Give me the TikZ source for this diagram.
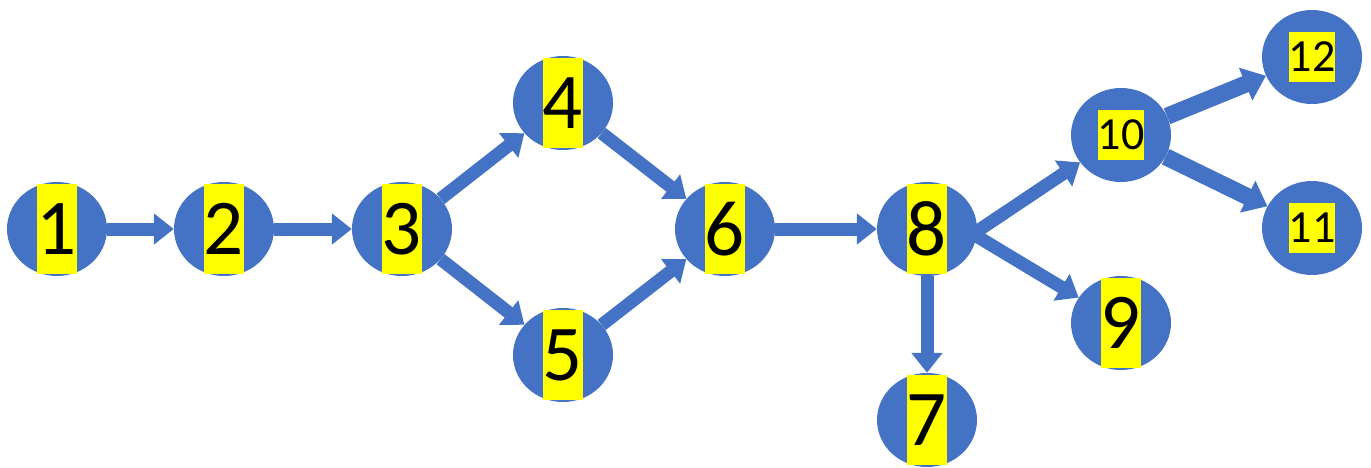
\documentclass[tikz,border=0pt]{standalone}
\usepackage{fontspec}
\setmainfont{Carlito}
\usetikzlibrary{arrows.meta,shapes.geometric}
\definecolor{obl}{HTML}{4472C4}
\definecolor{yel}{HTML}{FFFF00}
\begin{document}
\begin{tikzpicture}[x=1pt,y=-1pt,
  bub/.style={ellipse,fill=obl,minimum width=100pt,minimum height=94pt,inner sep=0pt},
  strip/.style={fill=yel,inner sep=0pt,minimum width=40pt,minimum height=90pt,font=\fontsize{79}{80}\selectfont},
  tag/.style={fill=yel,inner sep=0pt,minimum width=45pt,minimum height=50pt,font=\fontsize{46}{48}\selectfont},
  arr/.style={draw=obl,line width=13pt,-{Triangle[width=30pt,length=20pt]}},
  arrw/.style={draw=obl,line width=17pt,-{Triangle[width=34pt,length=22pt]}}]
\useasboundingbox (0,0) rectangle (1371,468);
\node[bub] (n1) at (57,229) {};
\node[bub] (n2) at (224,229) {};
\node[bub] (n3) at (402,229) {};
\node[bub] (n4) at (563,103) {};
\node[bub] (n5) at (563,355) {};
\node[bub] (n6) at (725,229) {};
\node[bub] (n8) at (927,229) {};
\node[bub] (n7) at (927,420) {};
\node[bub] (n9) at (1121,323) {};
\node[bub] (n10) at (1121,135) {};
\node[bub] (n11) at (1312,228) {};
\node[bub] (n12) at (1312,57) {};
\node[strip] at (n1) {1};
\node[strip] at (n2) {2};
\node[strip] at (n3) {3};
\node[strip] at (n4) {4};
\node[strip] at (n5) {5};
\node[strip] at (n6) {6};
\node[strip] at (n8) {8};
\node[strip] at (n7) {7};
\node[strip] at (n9) {9};
\node[tag] at (n10) {10};
\node[tag] at (n11) {11};
\node[tag] at (n12) {12};
\coordinate (c8) at (973,234);
\draw[arr] (n1.east) -- (n2.west);
\draw[arr] (n2.east) -- (n3.west);
\draw[arr] (n3) -- (n4);
\draw[arr] (n3) -- (n5);
\draw[arr] (n4) -- (n6);
\draw[arr] (n5) -- (n6);
\draw[arr] (n6.east) -- (n8.west);
\draw[arr] (n8) -- (n7);
\draw[arr] (c8) -- (n10);
\draw[arr] (c8) -- (n9);
\draw[arrw] (n10) -- (n12);
\draw[arrw] (n10) -- (n11);
\end{tikzpicture}
\end{document}
